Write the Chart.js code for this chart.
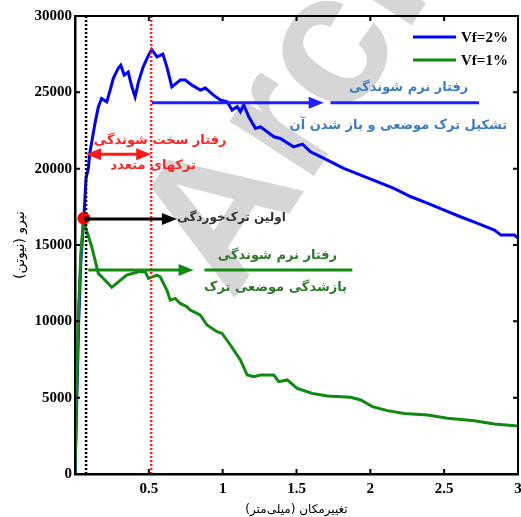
<!DOCTYPE html>
<html>
<head>
<meta charset="utf-8">
<script src="https://cdn.jsdelivr.net/npm/chart.js@4.4.1/dist/chart.umd.min.js"></script>
<style>
  html, body { margin: 0; padding: 0; background: #fff; }
  canvas { display: block; }
</style>
</head>
<body>
<canvas id="forceChart" width="521" height="517"></canvas>
<script>
// Vf = 2% curve (displacement mm, force N)
const dispBlue = [0, 0.01, 0.025, 0.04, 0.06, 0.075, 0.09, 0.10, 0.136, 0.158, 0.18, 0.215, 0.238, 0.26, 0.293, 0.31, 0.333, 0.36, 0.385, 0.407, 0.43, 0.462, 0.498, 0.52, 0.555, 0.595, 0.622, 0.656, 0.713, 0.747, 0.792, 0.849, 0.883, 0.94, 0.984, 1.03, 1.064, 1.098, 1.12, 1.143, 1.177, 1.222, 1.256, 1.347, 1.39, 1.48, 1.54, 1.595, 1.71, 1.82, 1.935, 2.05, 2.16, 2.275, 2.39, 2.5, 2.61, 2.727, 2.84, 2.885, 2.976, 3.0];
const forceBlue = [0, 4000, 10000, 14000, 16800, 19400, 20000, 21000, 23000, 24050, 24600, 24380, 25150, 25930, 26580, 26780, 26130, 26330, 25360, 24710, 25690, 26670, 27440, 27810, 27330, 27500, 26670, 25360, 25800, 25800, 25470, 25150, 25280, 24800, 24500, 24380, 23840, 24060, 23730, 24170, 23400, 22640, 22740, 22090, 21980, 21430, 21610, 21110, 20560, 20020, 19580, 19140, 18710, 18160, 17730, 17290, 16850, 16420, 15980, 15650, 15650, 15450];

// Vf = 1% curve
const dispGreen = [0, 0.012, 0.025, 0.04, 0.057, 0.113, 0.158, 0.192, 0.249, 0.294, 0.35, 0.43, 0.475, 0.498, 0.555, 0.577, 0.622, 0.645, 0.679, 0.713, 0.758, 0.78, 0.826, 0.849, 0.894, 0.962, 0.996, 1.052, 1.12, 1.166, 1.21, 1.256, 1.346, 1.38, 1.437, 1.505, 1.573, 1.607, 1.709, 1.867, 1.935, 2.014, 2.116, 2.23, 2.388, 2.523, 2.704, 2.84, 3.0];
const forceGreen = [0, 6000, 11000, 14500, 16600, 14890, 13140, 12810, 12230, 12590, 13030, 13250, 13250, 12810, 13030, 12920, 12050, 11390, 11500, 11170, 10960, 10740, 10520, 10410, 9760, 9320, 9210, 8450, 7470, 6480, 6370, 6480, 6480, 6050, 6160, 5610, 5390, 5280, 5110, 5020, 4850, 4410, 4150, 3970, 3860, 3650, 3490, 3270, 3140];

const seriesLabels = ["Vf=2%", "Vf=1%"];

// first cracking point and the two reference lines
const firstCrack = [0.06, 16750];
const crackLineX = 0.075;
const peakLineX = 0.516;

// arrows: [x start, x tip, y, colour, double headed]
const arrows = [
  [0.52, 1.684, 24320, "#1f1fff", false],
  [0.075, 0.516, 20940, "#ff1a1a", true],
  [0.06, 0.69, 16700, "#000000", false],
  [0.09, 0.803, 13360, "#138a13", false]
];
// plain segments after the arrow tips
const segments = [
  [1.73, 2.736, 24320, "#1f1fff"],
  [0.876, 1.878, 13360, "#138a13"]
];
// notes: [text, x centre, y centre, colour, size]
const notes = [
  ["رفتار نرم شوندگی", 2.26, 25280, "#3a7dc2", 13],
  ["تشکیل ترک موضعی و باز شدن آن", 2.19, 22790, "#3a7dc2", 13],
  ["رفتار سخت شوندگی", 0.577, 21810, "#ff2424", 13],
  ["ترکهای متعدد", 0.53, 20170, "#ff2424", 13],
  ["اولین ترک‌خوردگی", 1.06, 16765, "#333333", 12],
  ["رفتار نرم شوندگی", 1.371, 14275, "#2a7a2a", 13],
  ["بازشدگی موضعی ترک", 1.358, 12180, "#2a7a2a", 13]
];

const xTitle = "\u200Fتغییرمکان (میلی‌متر)\u200F";
const yTitle = "\u200Fنیرو (نیوتن)\u200F";

function toPoints(xs, ys) {
  return xs.map((x, i) => ({ x: x, y: ys[i] }));
}

const annotate = {
  id: "annotate",
  beforeDatasetsDraw(chart) {
    const ctx = chart.ctx;
    // watermark
    ctx.save();
    ctx.translate(232, 302);
    ctx.rotate(-57 * Math.PI / 180);
    ctx.fillStyle = "#d6d6d6";
    ctx.font = 'bold 190px "Liberation Sans"';
    ctx.textBaseline = "alphabetic";
    ctx.fillText("Archive", 0, 0);
    ctx.restore();
  },
  afterDatasetsDraw(chart) {
    const ctx = chart.ctx;
    const xs = chart.scales.x, ys = chart.scales.y;
    const a = chart.chartArea;

    // dotted reference lines
    ctx.save();
    ctx.lineWidth = 2.5;
    ctx.setLineDash([2, 2]);
    ctx.strokeStyle = "#000";
    ctx.beginPath();
    ctx.moveTo(xs.getPixelForValue(crackLineX), a.bottom);
    ctx.lineTo(xs.getPixelForValue(crackLineX), a.top);
    ctx.stroke();
    ctx.strokeStyle = "#ff2020";
    ctx.beginPath();
    ctx.moveTo(xs.getPixelForValue(peakLineX), a.bottom);
    ctx.lineTo(xs.getPixelForValue(peakLineX), a.top);
    ctx.stroke();
    ctx.restore();

    // arrows
    function head(x, y, dir, color) {
      ctx.fillStyle = color;
      ctx.beginPath();
      ctx.moveTo(x, y);
      ctx.lineTo(x - dir * 15, y - 6);
      ctx.lineTo(x - dir * 15, y + 6);
      ctx.closePath();
      ctx.fill();
    }
    ctx.save();
    ctx.lineWidth = 3;
    arrows.forEach(([x1, x2, y, color, both]) => {
      const p1 = xs.getPixelForValue(x1), p2 = xs.getPixelForValue(x2), py = ys.getPixelForValue(y);
      ctx.strokeStyle = color;
      ctx.beginPath();
      ctx.moveTo(both ? p1 + 8 : p1, py);
      ctx.lineTo(p2 - 8, py);
      ctx.stroke();
      head(p2, py, 1, color);
      if (both) head(p1, py, -1, color);
    });
    segments.forEach(([x1, x2, y, color]) => {
      const py = ys.getPixelForValue(y);
      ctx.strokeStyle = color;
      ctx.beginPath();
      ctx.moveTo(xs.getPixelForValue(x1), py);
      ctx.lineTo(xs.getPixelForValue(x2), py);
      ctx.stroke();
    });
    ctx.restore();

    // notes
    ctx.save();
    ctx.direction = "rtl";
    ctx.textAlign = "center";
    ctx.textBaseline = "middle";
    notes.forEach(([t, x, y, color, size]) => {
      ctx.font = 'bold ' + size + 'px "DejaVu Sans"';
      ctx.fillStyle = color;
      ctx.fillText(t, xs.getPixelForValue(x), ys.getPixelForValue(y));
    });
    ctx.restore();

    // legend
    ctx.save();
    ctx.lineWidth = 3;
    ctx.font = 'bold 15px "Liberation Serif"';
    ctx.textBaseline = "middle";
    ctx.fillStyle = "#000";
    chart.data.datasets.slice(0, 2).forEach((ds, i) => {
      const ly = a.top + 21 + i * 23;
      ctx.strokeStyle = ds.borderColor;
      ctx.beginPath();
      ctx.moveTo(a.right - 105, ly);
      ctx.lineTo(a.right - 62, ly);
      ctx.stroke();
      ctx.fillText(ds.label, a.right - 57, ly + 1);
    });
    ctx.restore();
  },
  afterDraw(chart) {
    const ctx = chart.ctx;
    const xs = chart.scales.x, ys = chart.scales.y;
    const a = chart.chartArea;
    ctx.save();
    ctx.strokeStyle = "#000";
    ctx.lineWidth = 2;
    ctx.strokeRect(a.left, a.top, a.right - a.left, a.bottom - a.top);
    // inward tick marks on all four sides
    ys.ticks.forEach(t => {
      const py = ys.getPixelForValue(t.value);
      ctx.beginPath();
      ctx.moveTo(a.left, py); ctx.lineTo(a.left + 5, py);
      ctx.moveTo(a.right, py); ctx.lineTo(a.right - 5, py);
      ctx.stroke();
    });
    xs.ticks.forEach(t => {
      const px = xs.getPixelForValue(t.value);
      ctx.beginPath();
      ctx.moveTo(px, a.bottom); ctx.lineTo(px, a.bottom - 5);
      ctx.moveTo(px, a.top); ctx.lineTo(px, a.top + 5);
      ctx.stroke();
    });
    ctx.restore();
  }
};

const ctx = document.getElementById("forceChart").getContext("2d");
new Chart(ctx, {
  type: "line",
  data: {
    datasets: [
      {
        label: seriesLabels[0],
        data: toPoints(dispBlue, forceBlue),
        borderColor: "#0000ff",
        borderWidth: 3,
        pointRadius: 0,
        order: 2
      },
      {
        label: seriesLabels[1],
        data: toPoints(dispGreen, forceGreen),
        borderColor: "#108a10",
        borderWidth: 3,
        pointRadius: 0,
        order: 1
      },
      {
        label: "first crack",
        data: [{ x: firstCrack[0], y: firstCrack[1] }],
        showLine: false,
        pointRadius: 6,
        pointBackgroundColor: "#ff0000",
        pointBorderColor: "#ff0000",
        order: 0
      }
    ]
  },
  options: {
    responsive: false,
    animation: false,
    layout: { autoPadding: false, padding: { top: 16, right: 3, left: 0, bottom: 0 } },
    plugins: { legend: { display: false }, tooltip: { enabled: false } },
    scales: {
      x: {
        type: "linear",
        min: 0,
        max: 3,
        grid: { display: false, drawTicks: false },
        border: { display: true, color: "#000", width: 2.5 },
        ticks: {
          stepSize: 0.5,
          padding: 6,
          color: "#000",
          font: { family: "Liberation Serif", size: 15, weight: "bold" },
          maxRotation: 0,
          callback: v => (v === 0 ? "" : String(v))
        },
        title: {
          display: true,
          text: xTitle,
          color: "#000",
          font: { family: "DejaVu Sans", size: 12 },
          padding: { top: 0, bottom: 0 }
        },
        afterFit: s => { s.height = 43; s.paddingLeft = 0; s.paddingRight = 0; }
      },
      y: {
        min: 0,
        max: 30000,
        grid: { display: false, drawTicks: false },
        border: { display: true, color: "#000", width: 2.5 },
        ticks: {
          stepSize: 5000,
          padding: 3,
          color: "#000",
          font: { family: "Liberation Serif", size: 15, weight: "bold" },
          callback: v => String(v)
        },
        title: {
          display: true,
          text: yTitle,
          color: "#000",
          font: { family: "DejaVu Sans", size: 14 },
          padding: { top: 12, bottom: 0 }
        },
        afterFit: s => { s.width = 75; s.paddingTop = 0; s.paddingBottom = 0; }
      }
    }
  },
  plugins: [annotate]
});
</script>
</body>
</html>
